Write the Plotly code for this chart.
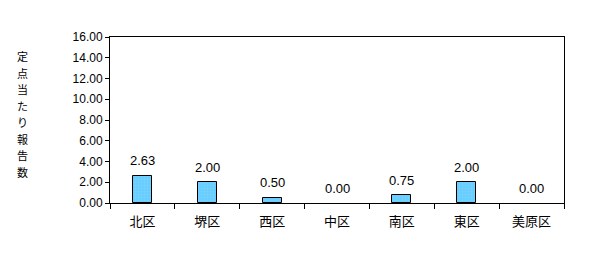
import plotly.graph_objects as go

categories = ["北区", "堺区", "西区", "中区", "南区", "東区", "美原区"]
values = [2.63, 2.00, 0.50, 0.00, 0.75, 2.00, 0.00]
y_ticks = [0, 2, 4, 6, 8, 10, 12, 14, 16]
y_title = "定点当たり報告数"

FONT = "Liberation Sans, Arial, Noto Sans CJK JP, sans-serif"

fig = go.Figure()
fig.add_trace(go.Bar(
    x=categories, y=values, width=0.29,
    marker=dict(color="#66CCFF",
                line=dict(color="black", width=[1 if v > 0 else 0 for v in values]),
                pattern=dict(shape=".", fgcolor="#8FD8FF", bgcolor="#66CCFF", size=3, solidity=0.3)),
    hoverinfo="skip",
))
for c, v in zip(categories, values):
    fig.add_annotation(x=c, y=v, text=f"{v:.2f}", showarrow=False,
                       yanchor="middle", yshift=15,
                       font=dict(family=FONT, size=13, color="black"))

# vertical stacked y-axis title, one character per line
n = len(y_title)
top_px, bot_px = 56, 172
for i, ch in enumerate(y_title):
    ypix = top_px + (bot_px - top_px) * i / (n - 1)
    fig.add_annotation(xref="paper", yref="paper", x=-0.193, y=(203 - ypix) / 166,
                       text=ch, showarrow=False, xanchor="center", yanchor="middle",
                       borderpad=0,
                       font=dict(family="Noto Sans CJK JP", size=11, color="black"))

fig.update_layout(
    width=590, height=255,
    margin=dict(l=110, r=26, t=37, b=52),
    paper_bgcolor="white", plot_bgcolor="white",
    showlegend=False,
    font=dict(family=FONT, size=11, color="black"),
    bargap=0,
)
fig.update_xaxes(type="category", showline=True, linecolor="black", linewidth=1, mirror=True,
                 ticks="outside", tickson="boundaries", ticklen=5, tickcolor="black",
                 ticklabelstandoff=6,
                 showgrid=False, tickfont=dict(family=FONT, size=13))
fig.update_yaxes(range=[0, 16], tickvals=y_ticks, tickformat=".2f",
                 showline=True, linecolor="black", linewidth=1, mirror=True,
                 ticks="outside", ticklen=4, tickcolor="black", showgrid=False,
                 zeroline=False, tickfont=dict(family=FONT, size=12))

fig.write_html("out.html")
